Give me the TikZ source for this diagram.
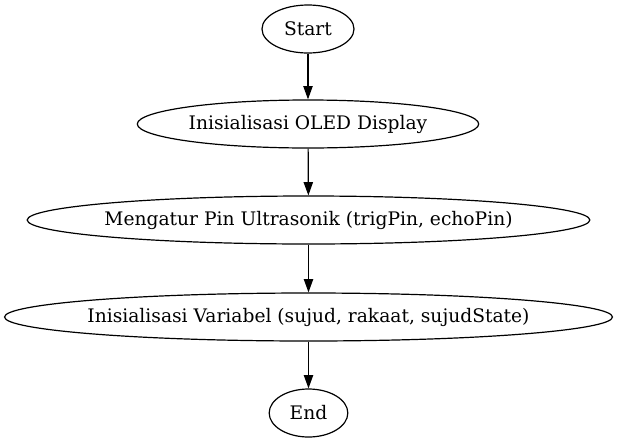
\documentclass[tikz,border=0pt]{standalone}
\usepackage{fontspec}
\setmainfont{DejaVu Serif}
\usetikzlibrary{shapes.geometric,arrows.meta}
\newcommand{\flowtext}[1]{\makebox[0pt]{#1}}
\begin{document}
\begin{tikzpicture}[x=0.75pt,y=-0.75pt,
  flownode/.style={draw,ellipse,inner sep=0pt,line width=0.9pt,minimum height=36pt,font=\fontsize{14}{17}\selectfont},
  flowarrow/.style={draw,line width=0.9pt,-{Triangle[length=10pt,width=7pt]}}]
\useasboundingbox (0,0) rectangle (617,443);
\node[flownode,minimum width=69pt] (start) at (308,29) {\flowtext{Start}};
\node[flownode,minimum width=256pt] (oled) at (308,124) {\flowtext{Inisialisasi OLED Display}};
\node[flownode,minimum width=422pt] (pin) at (308.5,220) {\flowtext{Mengatur Pin Ultrasonik (trigPin, echoPin)}};
\node[flownode,minimum width=456pt] (var) at (308.5,317) {\flowtext{Inisialisasi Variabel (sujud, rakaat, sujudState)}};
\node[flownode,minimum width=59pt] (end) at (308.5,413) {\flowtext{End}};
\draw[flowarrow] (start) -- (oled);
\draw[flowarrow] (oled) -- (pin);
\draw[flowarrow] (pin) -- (var);
\draw[flowarrow] (var) -- (end);
\end{tikzpicture}
\end{document}
